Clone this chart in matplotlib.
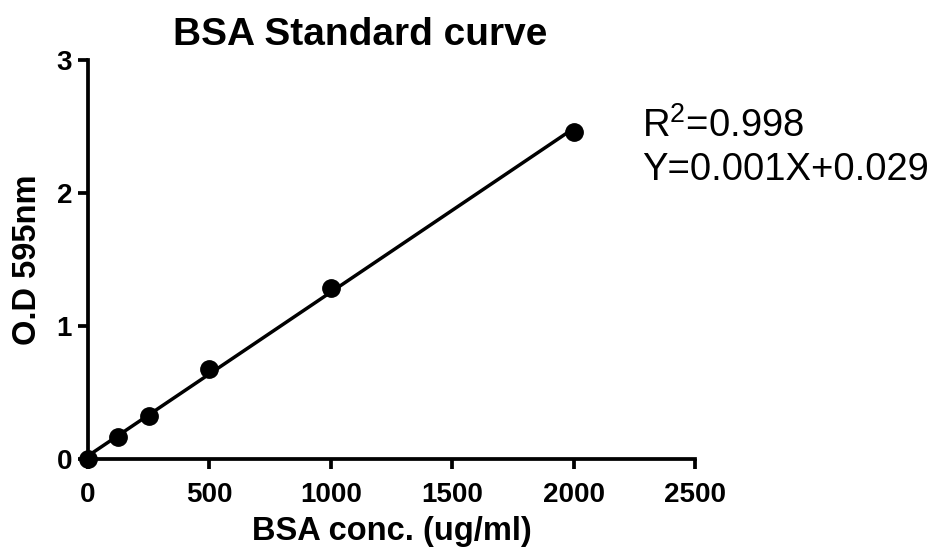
import numpy as np
import matplotlib
matplotlib.use('Agg')
import matplotlib.pyplot as plt

plt.rcParams['font.family'] = ['Liberation Sans', 'DejaVu Sans']
plt.rcParams['mathtext.fontset'] = 'custom'
plt.rcParams['mathtext.rm'] = 'Liberation Sans'

# data
conc = [0, 125, 250, 500, 1000, 2000]          # ug/ml
od595 = [0.0, 0.163, 0.326, 0.674, 1.286, 2.462]
xticks = [0, 500, 1000, 1500, 2000, 2500]
yticks = [0, 1, 2, 3]

fig = plt.figure(figsize=(9.3, 5.53), dpi=100)
ax = fig.add_axes([88/930, 94/553, 607/930, 399/553])

# linear fit, drawn over the measured range
k, b = np.polyfit(conc, od595, 1)
xf = np.array([min(conc), max(conc)])
ax.plot(xf, k*xf + b, color='black', lw=2.5, zorder=2)
ax.plot(conc, od595, 'o', color='black', ms=12.5, zorder=3, clip_on=False)

ax.set_xlim(0, 2500)
ax.set_ylim(0, 3)
ax.set_xticks(xticks)
ax.set_yticks(yticks)
for s in ['top', 'right']:
    ax.spines[s].set_visible(False)
for s in ['left', 'bottom']:
    ax.spines[s].set_linewidth(2.7)
ax.tick_params(axis='both', width=2.7, length=7.5, labelsize=20)
ax.tick_params(axis='x', pad=9)
ax.tick_params(axis='y', pad=4)
for lab in ax.get_xticklabels() + ax.get_yticklabels():
    lab.set_fontweight('bold')

ax.set_xlabel('BSA conc. (ug/ml)', fontsize=23.5, fontweight='bold', labelpad=6)
ax.set_ylabel('O.D 595nm', fontsize=23.5, fontweight='bold', labelpad=10)

fig.text(360/930, 1 - 45/553, 'BSA Standard curve', fontsize=28, fontweight='bold',
         ha='center', va='baseline')

fig.text(642/930, 1 - 137/553, r'R$^{\mathregular{2}}$=0.998', fontsize=27.5, va='baseline')
fig.text(642/930, 1 - 180/553, 'Y=0.001X+0.029', fontsize=27.5, va='baseline')

fig.savefig('out.png', dpi=100)
